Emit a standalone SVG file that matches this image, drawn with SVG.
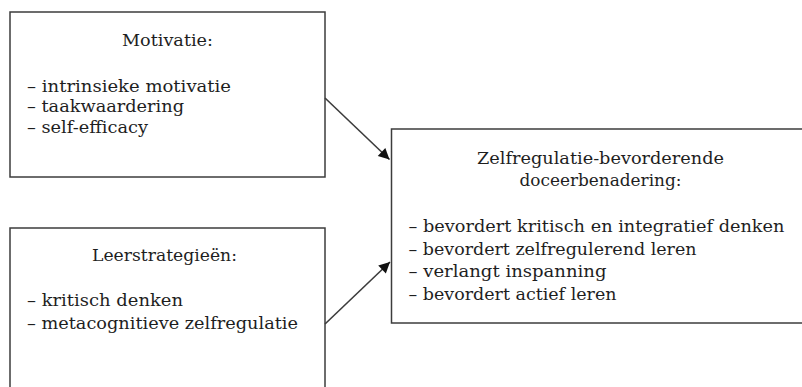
<svg xmlns="http://www.w3.org/2000/svg" width="802" height="387" viewBox="0 0 802 387">
<defs>
<style>
.box{fill:#fff;stroke:#3c3c3c;stroke-width:1.5}
.t{font-family:"DejaVu Serif","Liberation Serif",serif;font-size:17.5px;fill:#1e1e1e}
.c{stroke:#3c3c3c;stroke-width:1.6;fill:none}
</style>
<marker id="ah" viewBox="0 0 10 10" refX="10" refY="5" markerWidth="15" markerHeight="11" markerUnits="userSpaceOnUse" orient="auto">
<path d="M0,0 L10,5 L0,10 z" fill="#111"/>
</marker>
</defs>
<rect width="802" height="387" fill="#fff"/>
<g id="motivatie">
<rect class="box" x="10" y="12" width="315" height="165"/>
<text class="t" x="122" y="46" textLength="91" lengthAdjust="spacingAndGlyphs">Motivatie:</text>
<text class="t" x="27" y="91.5" textLength="204" lengthAdjust="spacingAndGlyphs">– intrinsieke motivatie</text>
<text class="t" x="27" y="112" textLength="157" lengthAdjust="spacingAndGlyphs">– taakwaardering</text>
<text class="t" x="27" y="132.5" textLength="121" lengthAdjust="spacingAndGlyphs">– self-efficacy</text>
</g>
<g id="leerstrategieen">
<rect class="box" x="10" y="228" width="315" height="170"/>
<text class="t" x="92" y="261" textLength="145" lengthAdjust="spacingAndGlyphs">Leerstrategieën:</text>
<text class="t" x="27" y="306" textLength="156" lengthAdjust="spacingAndGlyphs">– kritisch denken</text>
<text class="t" x="27" y="328.5" textLength="271" lengthAdjust="spacingAndGlyphs">– metacognitieve zelfregulatie</text>
</g>
<g id="doceerbenadering">
<rect class="box" x="391.5" y="129" width="420" height="194"/>
<text class="t" x="477" y="163.5" textLength="247" lengthAdjust="spacingAndGlyphs">Zelfregulatie-bevorderende</text>
<text class="t" x="519.5" y="186" textLength="162" lengthAdjust="spacingAndGlyphs">doceerbenadering:</text>
<text class="t" x="408.5" y="232" textLength="376" lengthAdjust="spacingAndGlyphs">– bevordert kritisch en integratief denken</text>
<text class="t" x="408.5" y="254.5" textLength="288" lengthAdjust="spacingAndGlyphs">– bevordert zelfregulerend leren</text>
<text class="t" x="408.5" y="277" textLength="198" lengthAdjust="spacingAndGlyphs">– verlangt inspanning</text>
<text class="t" x="408.5" y="300" textLength="208" lengthAdjust="spacingAndGlyphs">– bevordert actief leren</text>
</g>
<g id="connectors">
<line class="c" x1="325" y1="98" x2="389.5" y2="159.5" marker-end="url(#ah)"/>
<line class="c" x1="325" y1="324" x2="390" y2="262" marker-end="url(#ah)"/>
</g>
</svg>
